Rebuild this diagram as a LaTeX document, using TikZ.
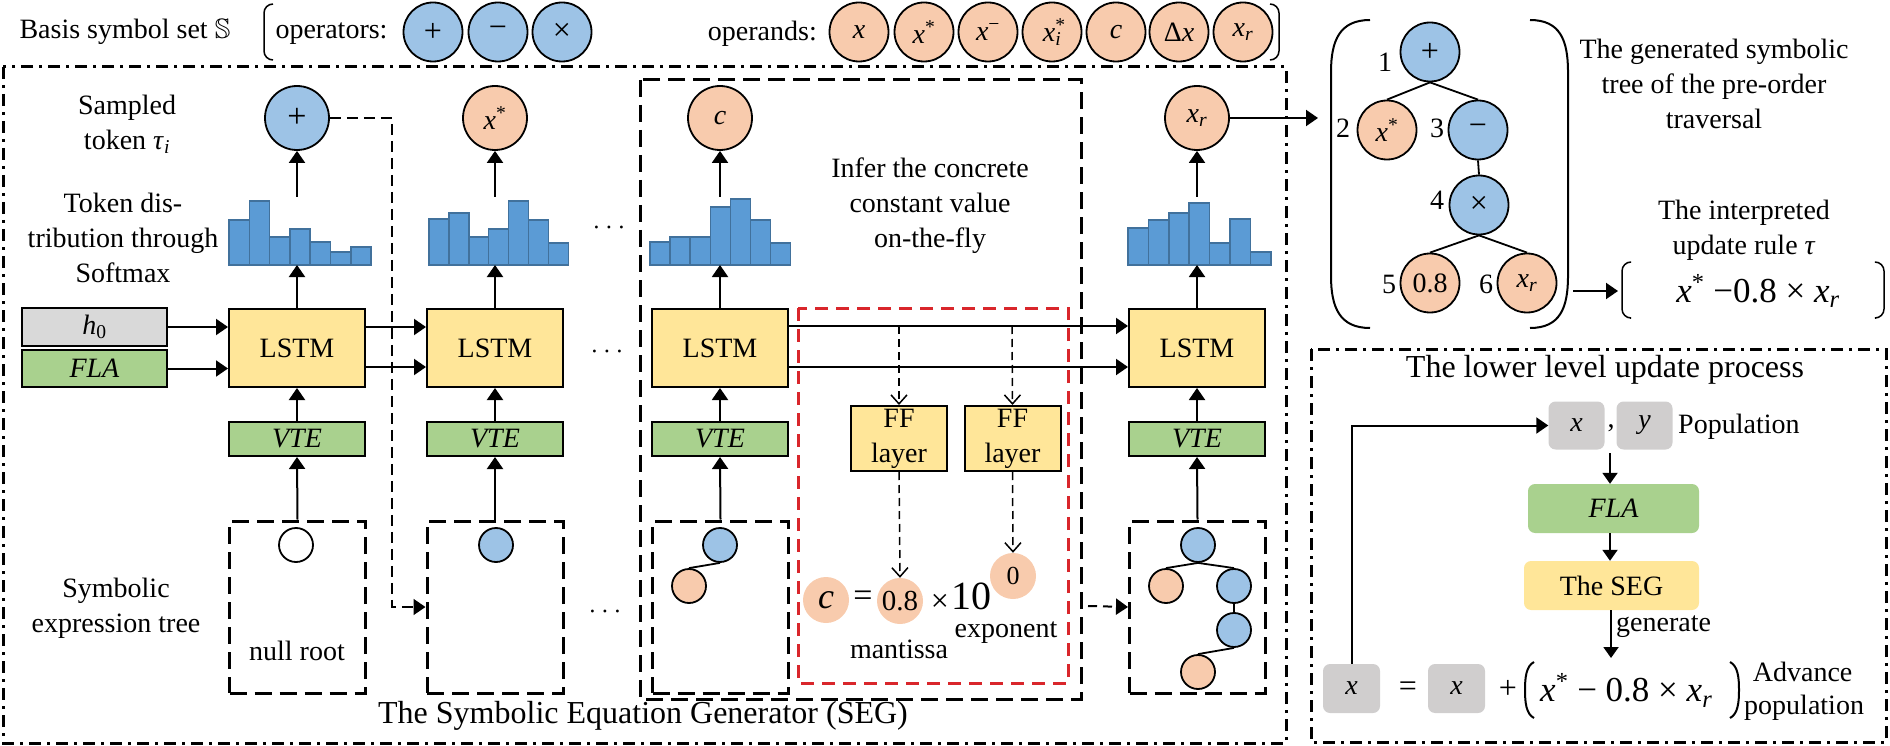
\documentclass[tikz,border=0pt]{standalone}
\usepackage{fix-cm}
\usepackage{fontspec}
\setmainfont{Liberation Serif}
\usepackage{amssymb}
\usetikzlibrary{arrows.meta,calc}
\definecolor{opblue}{HTML}{9DC3E6}
\definecolor{peach}{HTML}{F8CBAD}
\definecolor{barblue}{HTML}{5B9BD5}
\definecolor{barline}{HTML}{41719C}
\definecolor{lyellow}{HTML}{FFE699}
\definecolor{lgreen}{HTML}{A9D18E}
\definecolor{lgray}{HTML}{D9D9D9}
\definecolor{pgray}{HTML}{D0CECE}
\definecolor{dred}{HTML}{D9262B}
\newcommand{\xs}{\textit{x}\textsuperscript{*}}
\newcommand{\xr}{\textit{x}\textsubscript{\textit{r}}}
\newcommand{\bargroup}[3]{%
  \foreach \t [count=\i from 0] in {#3} {\draw[bar] ({#1+\i*#2},265) rectangle ({#1+(\i+1)*#2},\t);}}
\tikzset{
  sym/.style={circle, draw, line width=1.8pt, minimum size=59pt, inner sep=0pt},
  opc/.style={sym, fill=opblue, font=\fontsize{32}{32}\selectfont},
  ndc/.style={sym, fill=peach},
  tok/.style={sym, minimum size=64pt},
  lstm/.style={draw, line width=2pt, fill=lyellow, minimum width=136pt, minimum height=78pt, inner sep=0pt},
  vte/.style={draw, line width=2pt, fill=lgreen, minimum width=136pt, minimum height=34pt, inner sep=0pt, font=\fontsize{28}{35}\selectfont\itshape},
  inbox/.style={draw, line width=2pt, minimum width=145pt, minimum height=38pt, inner sep=0pt},
  treebox/.style={draw, line width=3pt, dash pattern=on 17pt off 8pt, minimum width=136pt, minimum height=172pt, inner sep=0pt},
  tn/.style={circle, draw, line width=1.8pt, minimum size=34pt, inner sep=0pt},
  arr/.style={line width=2pt, -{Triangle[length=12pt,width=16pt]}},
  darr/.style={line width=1.5pt, dash pattern=on 8pt off 5pt, -{Straight Barb[length=9pt,width=16pt]}},
  dashdot/.style={line width=3pt, dash pattern=on 12pt off 6pt on 3pt off 6pt},
  bar/.style={fill=barblue, draw=barline, line width=1.5pt},
  ffbox/.style={draw, line width=2pt, fill=lyellow, minimum width=96pt, minimum height=65pt, inner sep=0pt, align=center},
  pc/.style={circle, fill=peach, minimum size=46pt, inner sep=0pt},
  gb/.style={fill=pgray, rounded corners=7pt, minimum width=56pt, minimum height=48pt, inner sep=0pt},
  edge/.style={line width=1.8pt},
  brk/.style={line width=1.5pt, rounded corners=9pt},
}
\begin{document}
\begin{tikzpicture}[x=1pt,y=-1pt,font=\fontsize{28}{35}\selectfont]
\useasboundingbox (0,0) rectangle (1890,746);

% ---------- basis symbol set ----------
\node[anchor=west] (basis) at (16,32) {Basis symbol set $\mathbb{S}$};
\draw[brk] (273,4) -- (264,4) -- (264,60) -- (273,60);
\node[anchor=west] (opl) at (272,34) {operators:};
\node[opc] (o1) at (433,32) {+};
\node[opc] (o2) at (498,32) {−};
\node[opc] (o3) at (562,32) {×};
\node[anchor=east, inner sep=0pt] (odl) at (817,34) {operands:};
\node[ndc] (d1) at (859,32) {\textit{x}};
\node[ndc] (d2) at (924,32) {\xs};
\node[ndc] (d3) at (988,32) {\textit{x}\textsuperscript{−}};
\node[ndc] (d4) at (1052,32) {\textit{x}\rlap{\textsuperscript{*}}\textsubscript{\textit{i}}};
\node[ndc] (d5) at (1116,32) {\textit{c}};
\node[ndc] (d6) at (1179,32) {Δ\textit{x}};
\node[ndc] (d7) at (1243,32) {\xr};
\draw[brk] (1270,4) -- (1279,4) -- (1279,60) -- (1270,60);

% ---------- frames ----------
\draw[dashdot] (3,67) rectangle (1286,743);
\draw[line width=3pt, dash pattern=on 17pt off 8pt] (640,80) rectangle (1081,699);
\draw[dred, line width=3pt, dash pattern=on 13pt off 8pt] (798,308) rectangle (1068,683);
\draw[dashdot] (1311,349) rectangle (1886,742);

% ---------- left labels ----------
\node[align=center] (lab1) at (127,124) {Sampled\\token \textit{τ}\textsubscript{\textit{i}}};
\node[align=center] (lab2) at (123,238) {Token dis-\\tribution through\\Softmax};
\node[align=center] (lab3) at (116,608) {Symbolic\\expression tree};
\node[align=center] (lab4) at (930,206) {Infer the concrete\\constant value\\on-the-fly};
\node (segt) at (643,716) {\fontsize{32}{38}\selectfont The Symbolic Equation Generator (SEG)};

% ---------- tokens ----------
\node[tok, fill=opblue, font=\fontsize{34}{34}\selectfont] (t1) at (297,118) {+};
\node[tok, fill=peach] (t2) at (495,118) {\xs};
\node[tok, fill=peach] (t3) at (720,118) {\textit{c}};
\node[tok, fill=peach] (t4) at (1197,118) {\xr};

% ---------- bars ----------
\bargroup{229}{20.3}{220,201,237,229,242,252,247}
\bargroup{429}{19.9}{219,213,237,229,201,220,243}
\bargroup{650}{20.1}{242,237,237,207,199,220,243}
\bargroup{1128}{20.4}{228,220,213,203,243,219,252}
\foreach \c/\x in {1/297,2/495,3/720,4/1197}{
  \coordinate (bt\c) at (\x,197);
  \coordinate (bb\c) at (\x,265);
}
\node (dots1) at (609,228) {$\cdots$};

% ---------- LSTM row ----------
\node[inbox, fill=lgray] (h0) at (94.5,327) {\textit{h}\textsubscript{0}};
\node[inbox, fill=lgreen, minimum height=37pt] (fla) at (94.5,368.5) {\textit{FLA}};
\node[lstm] (l1) at (297,348) {LSTM};
\node[lstm] (l2) at (495,348) {LSTM};
\node[lstm] (l3) at (720,348) {LSTM};
\node[lstm] (l4) at (1197,348) {LSTM};
\node (dots2) at (607,352) {$\cdots$};
\node[vte] (v1) at (297,439) {VTE};
\node[vte] (v2) at (495,439) {VTE};
\node[vte] (v3) at (720,439) {VTE};
\node[vte] (v4) at (1197,439) {VTE};

\draw[arr] (h0.east) -- (l1.west |- h0.east);
\draw[arr] (fla.east) -- (l1.west |- fla.east);
\draw[arr] (l1.east |- 0,327) -- (l2.west |- 0,327);
\draw[arr] (l1.east |- 0,367) -- (l2.west |- 0,367);
\draw[arr] (l3.east |- 0,326) -- (l4.west |- 0,326);
\draw[arr] (l3.east |- 0,367) -- (l4.west |- 0,367);

\foreach \c in {1,2,3,4}{
  \draw[arr] (l\c.north) -- (bb\c);
  \draw[arr] (bt\c) -- (t\c.south);
  \draw[arr] (v\c.north) -- (l\c.south);
}

% ---------- tree boxes ----------
\node[treebox] (tb1) at (297.5,607) {};
\node[treebox] (tb2) at (495,607) {};
\node[treebox] (tb3) at (720.5,607) {};
\node[treebox] (tb4) at (1197.5,607) {};
\foreach \c in {1,2,3,4}{ \draw[arr] (tb\c.north) -- (v\c.south); }
\node (dots3) at (605,612) {$\cdots$};

\node[tn, fill=white] (n1) at (296,545) {};
\node (nullr) at (297,651) {null root};
\node[tn, fill=opblue] (n2) at (496,545) {};
\node[tn, fill=opblue] (n3a) at (720,545) {};
\node[tn, fill=peach] (n3b) at (689,586) {};
\draw[edge] (n3a.south) -- (n3b.north);
\node[tn, fill=opblue] (n4a) at (1198,545) {};
\node[tn, fill=peach] (n4b) at (1166,586) {};
\node[tn, fill=opblue] (n4c) at (1234,586) {};
\node[tn, fill=opblue] (n4d) at (1234,630) {};
\node[tn, fill=peach] (n4e) at (1198,672) {};
\draw[edge] (n4a.south) -- (n4b.north);
\draw[edge] (n4a.south) -- (n4c.north);
\draw[edge] (n4c.south) -- (n4d.north);
\draw[edge] (n4d.south) -- (n4e.north);

% dashed feedback from first token
\draw[line width=1.5pt, dash pattern=on 11pt off 6pt, -{Triangle[length=12pt,width=16pt]}]
  (t1.east) -- (392,118) -- (392,607) -- (tb2.west);
\coordinate (c3e) at (1088,606);
\draw[line width=2pt, dash pattern=on 9pt off 6pt, -{Triangle[length=12pt,width=16pt]}] (c3e) -- (tb4.west);

% ---------- constant inference ----------
\node[ffbox] (ff1) at (899,438.5) {FF\\layer};
\node[ffbox] (ff2) at (1012.5,438.5) {FF\\layer};
\coordinate (s1) at (899,326);
\coordinate (s2) at (1012,326);
\node[pc, font=\fontsize{36}{36}\selectfont] (cc) at (826,600) {\textit{c}};
\node[font=\fontsize{34}{34}\selectfont, inner sep=0pt] (eq) at (863,599) {=};
\node[pc, font=\fontsize{29}{29}\selectfont] (man) at (900,601) {0.8};
\node[font=\fontsize{32}{32}\selectfont, inner sep=0pt] (times) at (940,603) {×};
\node[font=\fontsize{40}{40}\selectfont, inner sep=0pt] (ten) at (971,596) {10};
\node[pc, font=\fontsize{26}{26}\selectfont] (ex) at (1013,576) {0};
\node[inner sep=0pt] (mlab) at (899,649) {mantissa};
\node[inner sep=0pt] (elab) at (1006,633) {exponent};
\draw[darr] (s1) -- (ff1.north);
\draw[darr] (s2) -- (ff2.north);
\draw[darr] (ff1.south) -- (man.north);
\draw[darr] (ff2.south) -- (ex.north);

% ---------- generated tree ----------
\coordinate (treein) at (1318,118);
\draw[arr] (t4.east) -- (treein);
\draw[line width=2pt] (1370,20) .. controls (1340,20) and (1331,40) .. (1331,72) -- (1331,276) .. controls (1331,308) and (1340,328) .. (1370,328);
\draw[line width=2pt] (1530,20) .. controls (1560,20) and (1568,40) .. (1568,72) -- (1568,276) .. controls (1568,308) and (1560,328) .. (1530,328);
\node[opc] (T1) at (1430,52) {+};
\node[ndc] (T2) at (1387,130) {\xs};
\node[opc] (T3) at (1478,130) {−};
\node[opc] (T4) at (1479,205) {×};
\node[ndc] (T5) at (1430,283) {0.8};
\node[ndc] (T6) at (1527,283) {\xr};
\draw[edge] (T1.south) -- (T2.north);
\draw[edge] (T1.south) -- (T3.north);
\draw[edge] (T3.south) -- (T4.north);
\draw[edge] (T4.south) -- (T5.north);
\draw[edge] (T4.south) -- (T6.north);
\node (k1) at (1385,62) {1};
\node (k2) at (1343,128) {2};
\node (k3) at (1437,128) {3};
\node (k4) at (1437,200) {4};
\node (k5) at (1389,284) {5};
\node (k6) at (1486,284) {6};
\node[align=center] (gent) at (1714,84) {The generated symbolic\\tree of the pre-order\\traversal};
\node[align=center] (intt) at (1744,230) {The interpreted\\update rule \textit{τ}};
\coordinate (parR) at (1573,291);
\coordinate (ruleL) at (1618,291);
\draw[arr] (parR) -- (ruleL);
\draw[brk] (1630,262) -- (1622,262) -- (1622,318) -- (1630,318);
\draw[brk] (1876,262) -- (1884,262) -- (1884,318) -- (1876,318);
\node[font=\fontsize{35}{35}\selectfont] (rule) at (1758,291) {\xs{} −0.8 × \xr};

% ---------- lower level update process ----------
\node[font=\fontsize{32}{38}\selectfont] (lowt) at (1605,370) {The lower level update process};
\node[gb] (xb) at (1576.5,425.5) {\textit{x}};
\node (comma) at (1611,428) {,};
\node[gb] (yb) at (1644.5,425.5) {\textit{y}};
\node[anchor=west, inner sep=0pt] (popl) at (1678,427) {Population};
\node[fill=lgreen, rounded corners=7pt, minimum width=171pt, minimum height=49pt, inner sep=0pt] (flab) at (1613.5,508.5) {\textit{FLA}};
\node[fill=lyellow, rounded corners=7pt, minimum width=175pt, minimum height=49pt, inner sep=0pt] (segb) at (1611.5,585.5) {The SEG};
\coordinate (xyb) at (1610,453);
\draw[line width=2pt, -{Triangle[length=11pt,width=15pt]}] (xyb) -- (flab.north -| xyb);
\draw[line width=2pt, -{Triangle[length=11pt,width=15pt]}] (flab.south -| xyb) -- (segb.north -| xyb);
\coordinate (genend) at (1611,658);
\draw[line width=2pt, -{Triangle[length=11pt,width=15pt]}] (segb.south -| genend) -- (genend);
\node[anchor=west, inner sep=0pt] (genl) at (1616,627) {generate};
\node[gb, minimum width=57pt, minimum height=49pt] (xb1) at (1351.5,688.5) {\textit{x}};
\node[font=\fontsize{32}{32}\selectfont] (eq2) at (1408,689) {=};
\node[gb, minimum width=57pt, minimum height=49pt] (xb2) at (1456.5,688.5) {\textit{x}};
\node[font=\fontsize{32}{32}\selectfont] (plus2) at (1508,689) {+};
\draw[line width=2pt] (1534,662) .. controls (1526,666) and (1525,678) .. (1525,690) .. controls (1525,702) and (1526,714) .. (1534,718);
\draw[line width=2pt] (1730,662) .. controls (1738,666) and (1739,678) .. (1739,690) .. controls (1739,702) and (1738,714) .. (1730,718);
\node[font=\fontsize{35}{35}\selectfont, anchor=west, inner sep=0pt] (upd) at (1540,690) {\xs{} − 0.8 × \xr};
\node[anchor=west, inner sep=0pt] (adv1) at (1748,672) {\,Advance};
\node[anchor=west, inner sep=0pt] (adv2) at (1744,708) {population};
\draw[arr] (xb1.north) |- (xb.west);
\end{tikzpicture}
\end{document}
